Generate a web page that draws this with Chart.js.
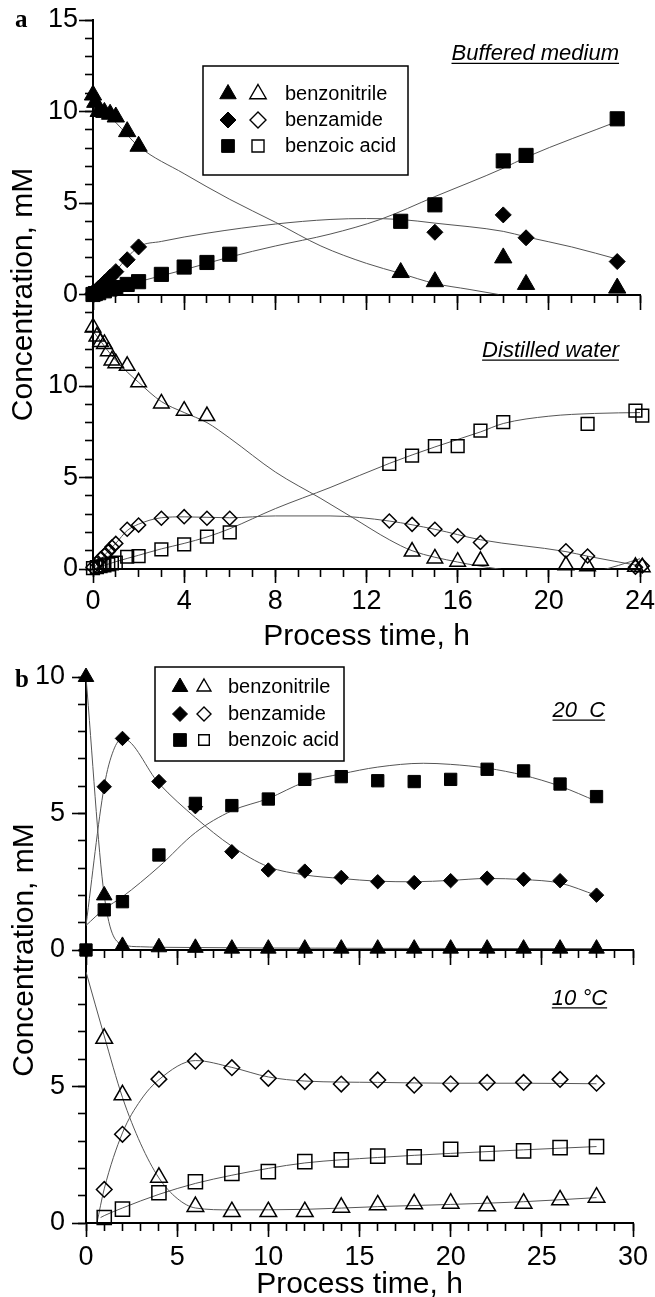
<!DOCTYPE html>
<html>
<head>
<meta charset="utf-8">
<title>Benzonitrile conversion</title>
<script src="https://cdn.jsdelivr.net/npm/chart.js@4/dist/chart.umd.min.js"></script>
<style>
  html, body { margin: 0; padding: 0; background: #fff; overflow: hidden; }
  body { width: 655px; height: 1297px; position: relative; }
  .panel { position: absolute; left: 0; width: 670px; }
  #panelA { top: 0; height: 655px; }
  #panelB { top: 650px; height: 647px; }
</style>
</head>
<body>
<div class="panel" id="panelA"><canvas id="chartA"></canvas></div>
<div class="panel" id="panelB"><canvas id="chartB"></canvas></div>
<script>
const FONT = '"Liberation Sans", Arial, Helvetica, sans-serif';
Chart.defaults.font.family = FONT;
Chart.defaults.color = '#000';

const seriesNames = ['benzonitrile', 'benzamide', 'benzoic acid'];
const seriesStyles = ['triangle', 'rectRot', 'rect'];
const yTitle = 'Concentration, mM';
const xTitle = 'Process time, h';

// ---- panel a: buffered medium (filled symbols)
const bufTime = [0, 0.1, 0.25, 0.5, 0.75, 1, 1.5, 2, 3, 4, 5, 6, 13.5, 15, 18, 19, 23];
const bufNitrile = [10.9, 10.5, 10.0, 9.95, 9.85, 9.7, 8.9, 8.1, null, null, null, null, 1.2, 0.7, 2.0, 0.55, 0.35];
const bufAmide = [0.05, 0.15, 0.35, 0.65, 0.95, 1.25, 1.9, 2.6, null, null, null, null, null, 3.4, 4.35, 3.1, 1.8];
const bufAcid = [0, 0.05, 0.1, 0.2, 0.3, 0.38, 0.55, 0.7, 1.1, 1.5, 1.75, 2.2, 4.0, 4.9, 7.3, 7.6, 9.6];

const bufNitrileFitT = [0, 1, 2, 4, 6, 8, 10, 12, 13.5, 15, 16.5, 17.8];
const bufNitrileFit = [10.6, 9.4, 8.1, 6.6, 5.2, 3.95, 2.65, 1.7, 1.15, 0.6, 0.28, 0];
const bufAmideFitT = [0, 1, 2, 3, 5, 8, 10.4, 12, 13.5, 15, 18, 19, 21, 23.1];
const bufAmideFit = [0, 1.3, 2.6, 2.9, 3.35, 3.85, 4.1, 4.15, 4.1, 3.9, 3.45, 3.15, 2.6, 1.9];
const bufAcidFitT = [0, 1, 2, 4, 6, 8, 10.4, 12.6, 15, 18, 19, 23.1];
const bufAcidFit = [0, 0.35, 0.7, 1.35, 2.05, 2.65, 3.3, 4.1, 5.35, 6.9, 7.5, 9.5];

// ---- panel a: distilled water (open symbols)
const disTime = [0, 0.17, 0.33, 0.5, 0.67, 0.83, 1, 1.5, 2, 3, 4, 5, 6, 13, 14, 15, 16, 17, 18, 20.75, 21.7, 23.8, 24.1];
const disNitrile = [13.2, 12.7, 12.4, 12.3, 11.9, 11.4, 11.25, 11.1, 10.2, 9.05, 8.65, 8.36, null, null, 0.95, 0.58, 0.4, 0.45, null, 0.2, 0.15, 0.12, 0.1];
const disAmide = [0.1, 0.3, 0.55, 0.75, 0.95, 1.2, 1.4, 2.17, 2.4, 2.77, 2.86, 2.77, 2.77, 2.62, 2.44, 2.17, 1.82, 1.45, null, 1.0, 0.71, 0.1, 0.17];
const disAcid = [0.05, 0.1, 0.15, 0.2, 0.25, 0.3, 0.35, 0.67, 0.7, 1.07, 1.35, 1.77, 2.0, 5.74, 6.19, 6.72, 6.72, 7.56, 8.02, null, 7.93, 8.65, 8.38];

const disNitrileFitT = [0, 1, 2, 3, 4, 5, 6, 8, 10, 11.4, 13, 14, 16, 17.8, 20, 22, 24.1];
const disNitrileFit = [13.0, 11.4, 10.2, 9.15, 8.55, 8.0, 7.15, 5.3, 3.85, 2.8, 1.6, 1.0, 0.38, 0, -0.4, -0.15, 0.6];
const disAmideFitT = [0, 0.5, 1, 1.5, 2, 3, 4, 6, 8, 10.4, 13, 15, 17, 20.75, 21.7, 24.1];
const disAmideFit = [0, 0.75, 1.4, 2.1, 2.45, 2.8, 2.85, 2.8, 2.9, 2.9, 2.62, 2.17, 1.6, 0.95, 0.7, 0.15];
const disAcidFitT = [0, 1, 2, 3, 4, 5, 6, 8, 10.4, 13, 15, 17, 18, 20, 22, 24.1];
const disAcidFit = [0, 0.4, 0.75, 1.1, 1.4, 1.75, 2.2, 3.3, 4.45, 5.77, 6.67, 7.49, 7.95, 8.35, 8.5, 8.55];

// ---- panel b: 20 C (filled symbols)
const warmTime = [0, 1, 2, 4, 6, 8, 10, 12, 14, 16, 18, 20, 22, 24, 26, 28];
const warmNitrile = [10, 2.0, 0.15, 0.1, 0.08, 0.05, 0.05, 0.05, 0.05, 0.05, 0.05, 0.05, 0.05, 0.05, 0.05, 0.05];
const warmAmide = [0, 5.98, 7.75, 6.17, 5.25, 3.6, 2.93, 2.89, 2.66, 2.5, 2.47, 2.54, 2.63, 2.59, 2.54, 2.01];
const warmAcid = [0, 1.47, 1.77, 3.48, 5.37, 5.29, 5.53, 6.25, 6.35, 6.2, 6.17, 6.25, 6.62, 6.56, 6.08, 5.62];

const warmNitrileFitT = [0, 1, 2, 3, 4, 28];
const warmNitrileFit = [10, 2.0, 0.2, 0.12, 0.1, 0.05];
const warmAmideFitT = [0, 1, 1.5, 2, 4, 6, 8, 10, 12, 14, 16, 18, 20, 22, 24, 26, 28];
const warmAmideFit = [0.9, 6.0, 7.3, 7.75, 6.1, 4.85, 3.8, 3.05, 2.75, 2.62, 2.52, 2.5, 2.55, 2.62, 2.58, 2.45, 2.0];
const warmAcidFitT = [0, 1, 2, 4, 6, 8, 10, 12, 14, 16, 18.5, 20, 22, 24, 26, 28];
const warmAcidFit = [0.9, 1.5, 1.95, 3.05, 4.3, 5.1, 5.55, 6.15, 6.45, 6.7, 6.84, 6.8, 6.66, 6.4, 6.0, 5.45];

// ---- panel b: 10 C (open symbols)
const coolTime = [1, 2, 4, 6, 8, 10, 12, 14, 16, 18, 20, 22, 24, 26, 28];
const coolNitrile = [6.76, 4.69, 1.67, 0.6, 0.41, 0.41, 0.41, 0.57, 0.66, 0.7, 0.72, 0.62, 0.72, 0.84, 0.94];
const coolAmide = [1.23, 3.25, 5.27, 5.93, 5.69, 5.3, 5.18, 5.09, 5.24, 5.05, 5.1, 5.15, 5.15, 5.26, 5.12];
const coolAcid = [0.2, 0.51, 1.11, 1.51, 1.82, 1.88, 2.25, 2.31, 2.45, 2.42, 2.7, 2.55, 2.64, 2.76, 2.8];

const coolNitrileFitT = [0, 1, 2, 3, 4, 5, 6, 8, 12, 16, 20, 24, 28];
const coolNitrileFit = [9.2, 6.85, 4.6, 2.9, 1.65, 0.9, 0.55, 0.48, 0.5, 0.6, 0.68, 0.78, 0.93];
const coolAmideFitT = [0.6, 1, 2, 3, 4, 6, 8, 10, 12, 16, 20, 24, 28];
const coolAmideFit = [0, 1.25, 3.3, 4.5, 5.25, 5.95, 5.7, 5.35, 5.2, 5.15, 5.12, 5.12, 5.1];
const coolAcidFitT = [0.8, 1, 2, 4, 6, 8, 10, 12, 16, 20, 24, 28];
const coolAcidFit = [0.2, 0.27, 0.55, 1.05, 1.45, 1.75, 2.0, 2.2, 2.4, 2.55, 2.68, 2.8];

// tick labels
const aTimeTicks = [0, 4, 8, 12, 16, 20, 24];
const aTopTicks = [0, 5, 10, 15];
const aBottomTicks = [0, 5, 10];
const bTimeTicks = [0, 5, 10, 15, 20, 25, 30];
const bTopTicks = [0, 5, 10];
const bBottomTicks = [0, 5];

function pts(ts, vs) {
  const out = [];
  ts.forEach((t, i) => { if (vs[i] !== null) out.push({ x: t, y: vs[i] }); });
  return out;
}

function markers(ts, vs, style, filled, r, axis) {
  return {
    data: pts(ts, vs), yAxisID: axis, showLine: false,
    pointStyle: style, pointRadius: r, pointHoverRadius: r,
    pointBackgroundColor: filled ? '#000' : 'rgba(0,0,0,0)',
    pointBorderColor: '#000', pointBorderWidth: filled ? 1 : 1.5,
    clip: false, order: 0
  };
}

function fit(ts, vs, axis) {
  return {
    data: pts(ts, vs), yAxisID: axis, showLine: true,
    borderColor: '#555', borderWidth: 1, pointRadius: 0, pointHoverRadius: 0,
    cubicInterpolationMode: 'monotone', fill: false, order: 1
  };
}

function tickGrid(len) {
  return { drawOnChartArea: false, drawTicks: true, tickLength: len, tickWidth: 1.6, tickColor: '#000', color: '#000' };
}

function yMajor(max, tickValues, weight, pad, width) {
  return {
    type: 'linear', axis: 'y', position: 'left', stack: 'conc', stackWeight: 1, weight: weight,
    min: 0, max: max,
    afterBuildTicks: s => { s.ticks = tickValues.map(v => ({ value: v })); },
    afterFit: s => { s.width = width; },
    grid: tickGrid(14),
    border: { display: true, width: 2, color: '#000' },
    ticks: { font: { size: 27 }, color: '#000', padding: pad, autoSkip: false }
  };
}

function yMinor(max) {
  return {
    type: 'linear', axis: 'y', position: 'left', weight: 0, min: 0, max: max,
    afterFit: s => { s.width = 0; },
    grid: tickGrid(8), border: { display: false },
    ticks: { display: false, stepSize: 1, autoSkip: false }
  };
}

function xMajor(max, tickValues, pad, height, titlePad) {
  return {
    type: 'linear', axis: 'x', position: 'bottom', weight: 1, min: 0, max: max,
    afterBuildTicks: s => { s.ticks = tickValues.map(v => ({ value: v })); },
    afterFit: s => { s.height = height; },
    grid: tickGrid(14),
    border: { display: true, width: 2, color: '#000' },
    ticks: { font: { size: 27 }, color: '#000', padding: pad, autoSkip: false, maxRotation: 0 },
    title: { display: true, text: xTitle, color: '#000', font: { size: 30 }, padding: { top: 0, bottom: titlePad } }
  };
}

function xMinor(max, position) {
  return {
    type: 'linear', axis: 'x', position: position, weight: 0, min: 0, max: max,
    afterFit: s => { s.height = 0; },
    grid: tickGrid(8), border: { display: false },
    ticks: { display: false, stepSize: 1, autoSkip: false }
  };
}

function xMid(max, tickValues) {
  return {
    type: 'linear', axis: 'x', position: { yT: 0 }, min: 0, max: max,
    afterBuildTicks: s => { s.ticks = tickValues.map(v => ({ value: v })); },
    grid: tickGrid(14),
    border: { display: true, width: 2, color: '#000' },
    ticks: { display: false, autoSkip: false }
  };
}

function drawMarker(ctx, style, x, y, r, filled) {
  ctx.beginPath();
  if (style === 'triangle') {
    const h = r * Math.sqrt(3) / 2;
    ctx.moveTo(x, y - r); ctx.lineTo(x + h, y + r / 2); ctx.lineTo(x - h, y + r / 2);
  } else if (style === 'rect') {
    const s = r * Math.SQRT1_2;
    ctx.rect(x - s, y - s, 2 * s, 2 * s);
  } else {
    ctx.moveTo(x - r, y); ctx.lineTo(x, y - r); ctx.lineTo(x + r, y); ctx.lineTo(x, y + r);
  }
  ctx.closePath();
  if (filled) { ctx.fillStyle = '#000'; ctx.fill(); }
  ctx.lineWidth = filled ? 1 : 1.4;
  ctx.strokeStyle = '#000';
  ctx.stroke();
}

// panel letters, shared y title, condition notes and the legend box
const decorByCanvas = {
  chartA: {
    letter: 'a', letterX: 15, letterY: 27, yTitleX: 24,
    notes: [
      { text: 'Buffered medium', t: 23.08, c: 12.79, axis: 'yT' },
      { text: 'Distilled water', t: 23.08, c: 11.58, axis: 'yB' }
    ],
    legend: { dx: 110, dy: 46, w: 205, h: 109, rows: [28, 54, 80], xF: 25, xO: 55, xT: 82,
              rF: [9.5, 8, 9], rO: [9.5, 8, 8.5] }
  },
  chartB: {
    letter: 'b', letterX: 15, letterY: 37, yTitleX: 25,
    notes: [
      { text: '20  C', t: 28.47, c: 8.53, axis: 'yT' },
      { text: '10 \u00b0C', t: 28.58, c: 7.99, axis: 'yB' }
    ],
    legend: { dx: 69, dy: -10, w: 189, h: 94, rows: [20, 47, 73], xF: 25, xO: 49, xT: 73,
              rF: [9, 7.5, 9], rO: [8, 7, 7.5] }
  }
};

const panelDecor = {
  id: 'panelDecor',
  afterDraw(chart) {
    const d = decorByCanvas[chart.canvas.id];
    if (!d) return;
    const ctx = chart.ctx, area = chart.chartArea;
    ctx.save();
    ctx.fillStyle = '#000';
    ctx.strokeStyle = '#000';

    ctx.font = 'bold 25px "Liberation Serif", "Times New Roman", serif';
    ctx.textAlign = 'left';
    ctx.textBaseline = 'alphabetic';
    ctx.fillText(d.letter, d.letterX, d.letterY);

    ctx.save();
    ctx.translate(d.yTitleX, (area.top + area.bottom) / 2);
    ctx.rotate(-Math.PI / 2);
    ctx.font = '30px ' + FONT;
    ctx.textAlign = 'center';
    ctx.textBaseline = 'middle';
    ctx.fillText(yTitle, 0, 0);
    ctx.restore();

    ctx.font = 'italic 22px ' + FONT;
    ctx.textAlign = 'right';
    ctx.textBaseline = 'alphabetic';
    d.notes.forEach(n => {
      const x = chart.scales.x.getPixelForValue(n.t);
      const y = chart.scales[n.axis].getPixelForValue(n.c);
      ctx.fillText(n.text, x, y);
      const w = ctx.measureText(n.text).width;
      ctx.lineWidth = 1.3;
      ctx.beginPath();
      ctx.moveTo(x - w, y + 3);
      ctx.lineTo(x, y + 3);
      ctx.stroke();
    });

    const L = d.legend;
    const bx = area.left + L.dx, by = area.top + L.dy;
    ctx.fillStyle = '#fff';
    ctx.fillRect(bx, by, L.w, L.h);
    ctx.lineWidth = 1.5;
    ctx.strokeRect(bx, by, L.w, L.h);
    ctx.font = '20px ' + FONT;
    ctx.textAlign = 'left';
    ctx.textBaseline = 'middle';
    seriesNames.forEach((name, i) => {
      const y = by + L.rows[i];
      drawMarker(ctx, seriesStyles[i], bx + L.xF, y, L.rF[i], true);
      drawMarker(ctx, seriesStyles[i], bx + L.xO, y, L.rO[i], false);
      ctx.fillStyle = '#000';
      ctx.fillText(name, bx + L.xT, y);
    });
    ctx.restore();
  }
};

function makePanel(id, datasets, sc, padding) {
  return new Chart(document.getElementById(id), {
    type: 'scatter',
    data: { datasets: datasets },
    options: {
      responsive: true,
      maintainAspectRatio: false,
      animation: false,
      events: [],
      layout: { padding: padding },
      plugins: { legend: { display: false }, tooltip: { enabled: false } },
      scales: sc
    },
    plugins: [panelDecor]
  });
}

makePanel('chartA', [
  markers(bufTime, bufNitrile, 'triangle', true, 10, 'yT'),
  markers(bufTime, bufAmide, 'rectRot', true, 8, 'yT'),
  markers(bufTime, bufAcid, 'rect', true, 10, 'yT'),
  markers(disTime, disNitrile, 'triangle', false, 9, 'yB'),
  markers(disTime, disAmide, 'rectRot', false, 7, 'yB'),
  markers(disTime, disAcid, 'rect', false, 9, 'yB'),
  fit(bufNitrileFitT, bufNitrileFit, 'yT'),
  fit(bufAmideFitT, bufAmideFit, 'yT'),
  fit(bufAcidFitT, bufAcidFit, 'yT'),
  fit(disNitrileFitT, disNitrileFit, 'yB'),
  fit(disAmideFitT, disAmideFit, 'yB'),
  fit(disAcidFitT, disAcidFit, 'yB')
], {
  x: xMajor(24, aTimeTicks, 2, 86, 0),
  xMinor: xMinor(24, 'bottom'),
  xMid: xMid(24, aTimeTicks),
  xMidMinor: Object.assign(xMinor(24, { yT: 0 }), { afterFit: undefined }),
  yB: yMajor(15, aBottomTicks, 2, 1, 93),
  yT: yMajor(15, aTopTicks, 3, 1, 93),
  yMinor: yMinor(30)
}, { top: 20, right: 30, bottom: 0, left: 0 });

makePanel('chartB', [
  markers(warmTime, warmNitrile, 'triangle', true, 9, 'yT'),
  markers(warmTime, warmAmide, 'rectRot', true, 7.2, 'yT'),
  markers(warmTime, warmAcid, 'rect', true, 8.7, 'yT'),
  markers(coolTime, coolNitrile, 'triangle', false, 9.6, 'yB'),
  markers(coolTime, coolAmide, 'rectRot', false, 7.8, 'yB'),
  markers(coolTime, coolAcid, 'rect', false, 10, 'yB'),
  fit(warmNitrileFitT, warmNitrileFit, 'yT'),
  fit(warmAmideFitT, warmAmideFit, 'yT'),
  fit(warmAcidFitT, warmAcidFit, 'yT'),
  fit(coolNitrileFitT, coolNitrileFit, 'yB'),
  fit(coolAmideFitT, coolAmideFit, 'yB'),
  fit(coolAcidFitT, coolAcidFit, 'yB')
], {
  x: xMajor(30, bTimeTicks, 4, 74, -6),
  xMinor: xMinor(30, 'bottom'),
  xMid: xMid(30, bTimeTicks),
  xMidMinor: Object.assign(xMinor(30, { yT: 0 }), { afterFit: undefined }),
  yB: yMajor(10, bBottomTicks, 2, 7, 86),
  yT: yMajor(10, bTopTicks, 3, 7, 86),
  yMinor: yMinor(20)
}, { top: 27, right: 37, bottom: 0, left: 0 });
</script>
</body>
</html>
